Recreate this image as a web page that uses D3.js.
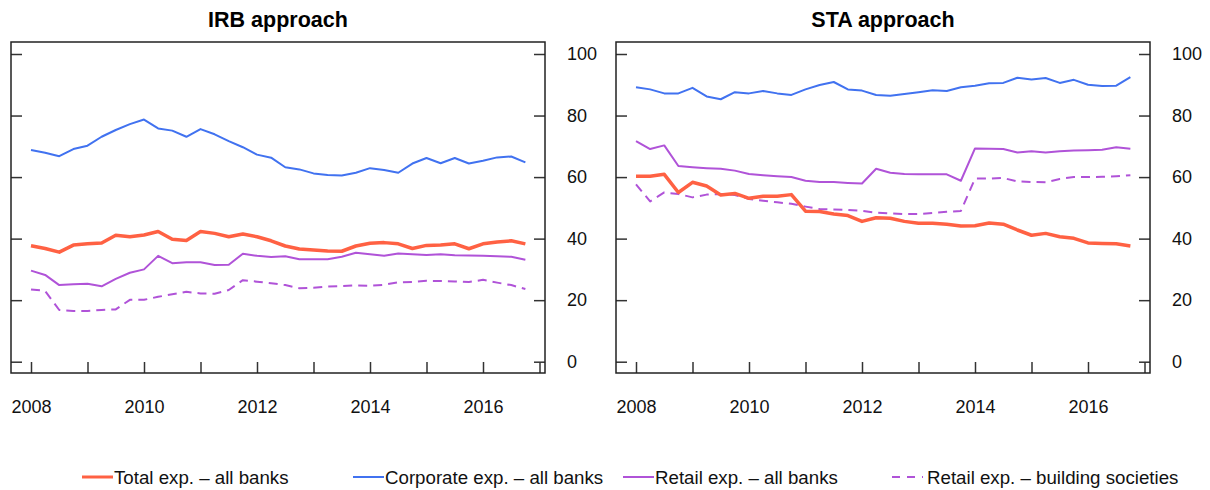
<!DOCTYPE html>
<html>
<head>
<meta charset="utf-8">
<script src="https://cdn.jsdelivr.net/npm/d3@7"></script>
<style>
    body { margin: 0; background: #fff; }
    svg { font-family: "Liberation Sans", Arial, Helvetica, sans-serif; }
</style>
</head>
<body>
<svg></svg>
<script>
const width = 1210, height = 490;

// quarterly observations, 2008 Q1 .. 2016 Q4
const quarters = d3.range(36).map(i => 2008 + i / 4);
const yearTicks = d3.range(2008, 2018);
const yTicks = [0, 20, 40, 60, 80, 100];

const irbTotal = [37.7, 36.8, 35.6, 37.9, 38.3, 38.6, 41.1, 40.6, 41.2, 42.3, 39.8, 39.4, 42.3, 41.7, 40.6, 41.5, 40.6, 39.3,
    37.6, 36.6, 36.3, 36.0, 35.9, 37.6, 38.5, 38.7, 38.3, 36.8, 37.8, 37.9, 38.3, 36.7, 38.3, 38.9, 39.3, 38.3];
const irbCorporate = [68.8, 67.9, 66.8, 69.1, 70.2, 73.1, 75.3, 77.2, 78.7, 75.8, 75.1, 73.1, 75.6, 73.9, 71.7, 69.7, 67.3, 66.3,
    63.2, 62.5, 61.2, 60.7, 60.5, 61.4, 62.9, 62.3, 61.4, 64.4, 66.2, 64.5, 66.2, 64.4, 65.3, 66.4, 66.7, 64.8];
const irbRetail = [29.6, 28.2, 24.9, 25.2, 25.3, 24.5, 26.9, 28.9, 30.0, 34.4, 32.0, 32.3, 32.3, 31.4, 31.5, 35.1, 34.4, 34.0,
    34.3, 33.3, 33.3, 33.3, 34.1, 35.4, 34.9, 34.4, 35.2, 34.9, 34.7, 34.9, 34.6, 34.5, 34.4, 34.3, 34.1, 33.1];
const irbRetailBS = [23.5, 23.0, 16.8, 16.5, 16.5, 16.8, 17.0, 20.1, 20.1, 21.1, 21.9, 22.7, 22.2, 22.1, 23.3, 26.5, 26.0, 25.5,
    24.9, 23.9, 24.0, 24.4, 24.6, 24.8, 24.7, 25.0, 25.8, 25.9, 26.3, 26.2, 26.1, 25.9, 26.6, 25.7, 24.9, 23.6];

const staTotal = [60.3, 60.3, 60.9, 55.0, 58.3, 57.1, 54.2, 54.7, 53.1, 53.8, 53.8, 54.3, 48.9, 48.8, 48.0, 47.5, 45.6, 46.8,
    46.6, 45.6, 45.0, 45.0, 44.7, 44.1, 44.2, 45.1, 44.7, 42.8, 41.1, 41.7, 40.6, 40.1, 38.6, 38.4, 38.3, 37.6];
const staCorporate = [89.2, 88.5, 87.2, 87.2, 89.0, 86.2, 85.3, 87.6, 87.2, 88.0, 87.2, 86.7, 88.5, 89.9, 90.9, 88.5, 88.1, 86.7,
    86.4, 87.0, 87.6, 88.2, 88.0, 89.2, 89.7, 90.5, 90.6, 92.3, 91.7, 92.2, 90.6, 91.6, 90.0, 89.6, 89.7, 92.5];
const staRetail = [71.7, 69.1, 70.3, 63.6, 63.2, 62.9, 62.7, 62.1, 61.0, 60.6, 60.3, 60.0, 58.8, 58.4, 58.4, 58.1, 57.9, 62.7,
    61.4, 61.0, 60.9, 60.9, 60.9, 58.8, 69.3, 69.2, 69.1, 68.0, 68.4, 68.0, 68.4, 68.6, 68.7, 68.9, 69.7, 69.2];
const staRetailBS = [57.6, 52.1, 55.0, 54.5, 53.4, 54.3, 54.5, 54.2, 52.9, 52.3, 51.8, 51.3, 50.4, 49.6, 49.5, 49.3, 49.0, 48.4,
    48.2, 48.0, 48.0, 48.3, 48.7, 49.0, 59.5, 59.5, 59.7, 58.6, 58.4, 58.3, 59.4, 60.0, 60.0, 60.1, 60.3, 60.6];

const seriesNames = ["Total exp. \u2013 all banks", "Corporate exp. \u2013 all banks",
    "Retail exp. \u2013 all banks", "Retail exp. \u2013 building societies"];
const seriesColors = ["#ff6143", "#4172f0", "#b053d8", "#b053d8"];
const seriesWidths = [3.5, 2, 2, 2];
const seriesDash = [null, null, null, "9,6"];

const panels = [
    {title: "IRB approach", left: 11, series: [irbTotal, irbCorporate, irbRetail, irbRetailBS]},
    {title: "STA approach", left: 616, series: [staTotal, staCorporate, staRetail, staRetailBS]}
];

const boxW = 534, boxTop = 42, boxBottom = 373;
const svg = d3.select('svg').attr('width', width).attr('height', height);

panels.forEach(drawPanel);
drawLegend();

function drawPanel(p) {
    const x = d3.scaleLinear().domain([2008, 2017]).range([p.left + 20, p.left + 528.5]);
    const y = d3.scaleLinear().domain([0, 100]).range([361.7, 54]);
    const g = svg.append('g');

    g.append('text')
        .attr('x', p.left + boxW / 2).attr('y', 27)
        .attr('text-anchor', 'middle')
        .style('font-size', '21.5px').style('font-weight', 'bold')
        .text(p.title);

    const left = g.append('g').attr('transform', `translate(${p.left},0)`)
        .call(d3.axisLeft(y).tickValues(yTicks).tickSize(-11).tickFormat(''));
    const right = g.append('g').attr('transform', `translate(${p.left + boxW},0)`)
        .call(d3.axisRight(y).tickValues(yTicks).tickSize(-11).tickPadding(22));
    const bottom = g.append('g').attr('transform', `translate(0,${boxBottom})`)
        .call(d3.axisBottom(x).tickValues(yearTicks).tickSize(-11).tickPadding(27)
            .tickFormat(d => d % 2 === 0 && d < 2017 ? d : ''));

    [left, right, bottom].forEach(a => {
        a.select('.domain').remove();
        a.selectAll('line').attr('stroke', '#333').attr('stroke-width', 1.5);
        a.selectAll('text').attr('fill', '#111').style('font-size', '18px');
    });

    g.append('rect')
        .attr('x', p.left).attr('y', boxTop)
        .attr('width', boxW).attr('height', boxBottom - boxTop)
        .attr('fill', 'none').attr('stroke', '#222').attr('stroke-width', 1.5);

    const line = d3.line()
        .x((d, i) => x(quarters[i]))
        .y(d => y(d));

    // draw thick total line last so it sits on top
    [3, 2, 1, 0].forEach(k => {
        g.append('path')
            .datum(p.series[k])
            .attr('fill', 'none')
            .attr('stroke', seriesColors[k])
            .attr('stroke-width', seriesWidths[k])
            .attr('stroke-dasharray', seriesDash[k])
            .attr('stroke-linejoin', 'round')
            .attr('d', line);
    });
}

function drawLegend() {
    const starts = [82, 353, 623, 892];
    const ly = 477;
    const items = svg.append('g').selectAll('.legend')
        .data(seriesNames)
        .enter().append('g')
        .attr('class', 'legend')
        .attr('transform', (d, i) => `translate(${starts[i]},${ly})`);

    items.append('line')
        .attr('x1', 0).attr('x2', 31).attr('y1', 0).attr('y2', 0)
        .attr('stroke', (d, i) => seriesColors[i])
        .attr('stroke-width', (d, i) => i === 0 ? 3 : 2)
        .attr('stroke-dasharray', (d, i) => i === 3 ? '8,7' : null);

    items.append('text')
        .attr('x', (d, i) => i === 3 ? 35 : 32)
        .attr('y', 6.7)
        .style('font-size', '18.7px')
        .attr('fill', '#111')
        .text(d => d);
}
</script>
</body>
</html>
